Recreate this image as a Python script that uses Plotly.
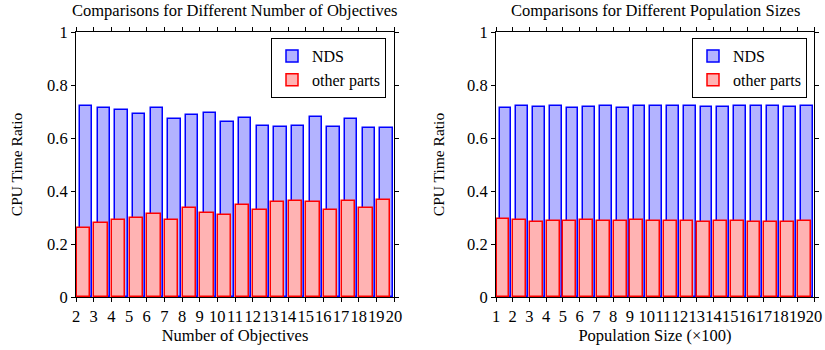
import plotly.graph_objects as go

# ---- data ----
obj_x = list(range(2, 20))
obj_nds = [0.722, 0.715, 0.704, 0.689, 0.712, 0.670, 0.685, 0.693, 0.659,
           0.674, 0.645, 0.643, 0.646, 0.678, 0.643, 0.670, 0.638, 0.636]
obj_other = [0.262, 0.281, 0.289, 0.300, 0.315, 0.292, 0.334, 0.318, 0.311,
             0.346, 0.330, 0.358, 0.361, 0.358, 0.327, 0.361, 0.334, 0.367]

pop_x = list(range(1, 20))
pop_nds = [0.713, 0.720, 0.718, 0.719, 0.715, 0.718, 0.719, 0.713, 0.719, 0.719,
           0.719, 0.722, 0.718, 0.717, 0.719, 0.722, 0.720, 0.718, 0.719]
pop_other = [0.296, 0.291, 0.282, 0.286, 0.285, 0.289, 0.286, 0.286, 0.292, 0.286,
             0.286, 0.285, 0.282, 0.286, 0.287, 0.284, 0.282, 0.282, 0.286]

y_ticks = [0, 0.2, 0.4, 0.6, 0.8, 1]
y_tick_text = ["0", "0.2", "0.4", "0.6", "0.8", "1"]

titles = ["Comparisons for Different Number of Objectives",
          "Comparisons for Different Population Sizes"]
x_titles = ["Number of Objectives", "Population Size (\u00d7100)"]
y_title = "CPU Time Ratio"
series_names = ["NDS", "other parts"]

BLUE_LINE, BLUE_FILL = "#0000ff", "#b3b3ff"
RED_LINE, RED_FILL = "#ff0000", "#ffb3b3"
FONT = "Liberation Serif, Times New Roman, serif"

fig = go.Figure()

panels = [
    (obj_x, obj_nds, obj_other, "x", "y", "legend"),
    (pop_x, pop_nds, pop_other, "x2", "y2", "legend2"),
]

for xs, nds, other, xa, ya, lg in panels:
    fig.add_trace(go.Bar(
        x=xs, y=nds, name=series_names[0], xaxis=xa, yaxis=ya, legend=lg,
        offset=0.22, width=0.70,
        marker=dict(color=BLUE_FILL, line=dict(color=BLUE_LINE, width=1.5)),
    ))
    fig.add_trace(go.Bar(
        x=xs, y=other, name=series_names[1], xaxis=xa, yaxis=ya, legend=lg,
        offset=0.03, width=0.77,
        marker=dict(color=RED_FILL, line=dict(color=RED_LINE, width=1.5)),
    ))

W, H = 825, 350
dom_left = [76 / W, 394 / W]
dom_right = [496 / W, 814 / W]
dom_y = [1 - 297 / H, 1 - 32 / H]

axis_common = dict(
    showline=True, linecolor="black", linewidth=1, mirror="ticks",
    ticks="outside", ticklen=4, tickcolor="black", tickwidth=1,
    showgrid=False, zeroline=False, automargin=False,
    tickfont=dict(family=FONT, size=16.5, color="black"),
)

fig.update_layout(
    width=W, height=H, margin=dict(l=0, r=0, t=0, b=0),
    paper_bgcolor="white", plot_bgcolor="white",
    barmode="overlay", bargap=0,
    font=dict(family=FONT, color="black"),
    xaxis=dict(domain=dom_left, anchor="y", range=[2, 20], tickmode="linear",
               tick0=2, dtick=1, tickangle=0, **axis_common,
               title=dict(text=x_titles[0], font=dict(family=FONT, size=16.5), standoff=1)),
    yaxis=dict(domain=dom_y, anchor="x", range=[0, 1], tickvals=y_ticks,
               ticktext=y_tick_text, **axis_common,
               title=dict(text=y_title, font=dict(family=FONT, size=15.5), standoff=20)),
    xaxis2=dict(domain=dom_right, anchor="y2", range=[1, 20], tickmode="linear",
                tick0=1, dtick=1, tickangle=0, **axis_common,
                title=dict(text=x_titles[1], font=dict(family=FONT, size=16.5), standoff=1)),
    yaxis2=dict(domain=dom_y, anchor="x2", range=[0, 1], tickvals=y_ticks,
                ticktext=y_tick_text, **axis_common,
                title=dict(text=y_title, font=dict(family=FONT, size=15.5), standoff=18)),
    legend=dict(x=386 / W, y=1 - 38 / H, xanchor="right", yanchor="top",
                bordercolor="black", borderwidth=1, bgcolor="white",
                font=dict(family=FONT, size=16), tracegroupgap=0),
    legend2=dict(x=807 / W, y=1 - 38 / H, xanchor="right", yanchor="top",
                 bordercolor="black", borderwidth=1, bgcolor="white",
                 font=dict(family=FONT, size=16), tracegroupgap=0),
    annotations=[
        dict(text=titles[0], x=(dom_left[0] + dom_left[1]) / 2, y=1 - 10 / H,
             xref="paper", yref="paper", showarrow=False,
             font=dict(family=FONT, size=16.5), xanchor="center", yanchor="middle"),
        dict(text=titles[1], x=(dom_right[0] + dom_right[1]) / 2, y=1 - 10 / H,
             xref="paper", yref="paper", showarrow=False,
             font=dict(family=FONT, size=16.5), xanchor="center", yanchor="middle"),
    ],
)

fig.write_html("out.html")
